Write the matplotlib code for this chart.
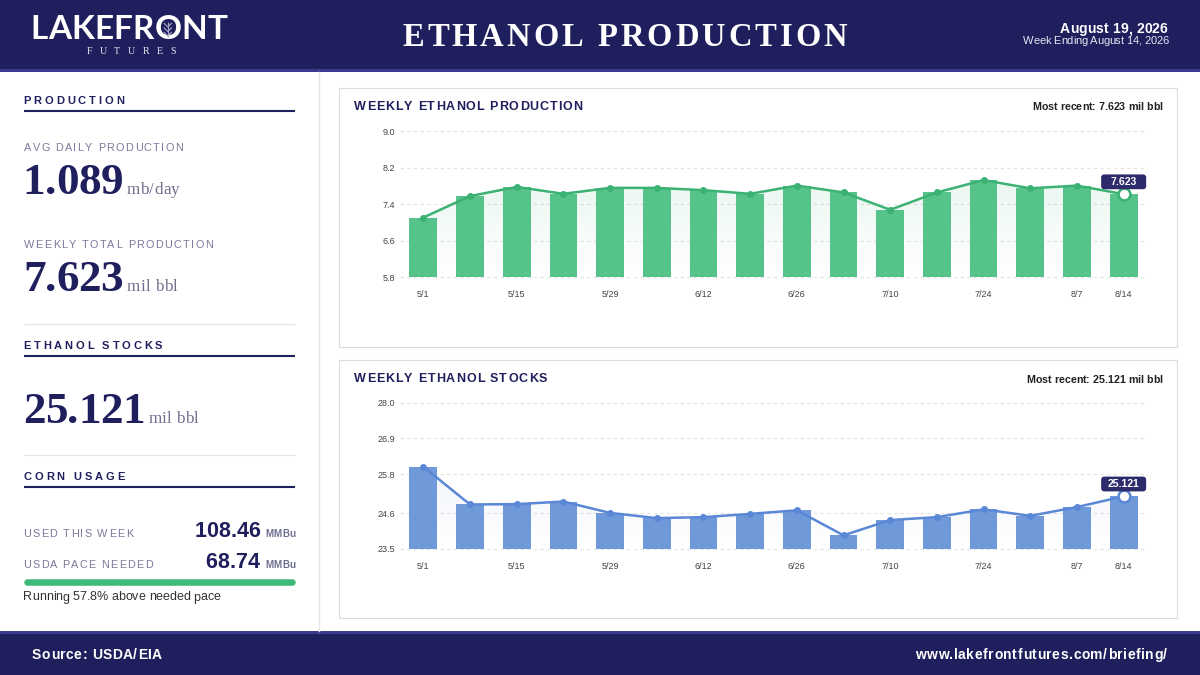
import numpy as np
import matplotlib
matplotlib.use("Agg")
import matplotlib.pyplot as plt
from matplotlib.patches import Rectangle, FancyBboxPatch, Polygon
from matplotlib.lines import Line2D
from matplotlib.font_manager import FontProperties, findfont, get_font

# ---------------- data ----------------
weeks = ["5/1", "5/8", "5/15", "5/22", "5/29", "6/5", "6/12", "6/19",
         "6/26", "7/3", "7/10", "7/17", "7/24", "7/31", "8/7", "8/14"]
shown_weeks = ["5/1", "5/15", "5/29", "6/12", "6/26", "7/10", "7/24", "8/7", "8/14"]
production = [7.11, 7.58, 7.78, 7.63, 7.76, 7.76, 7.71, 7.63,
              7.81, 7.66, 7.28, 7.66, 7.93, 7.75, 7.81, 7.623]
stocks = [26.03, 24.87, 24.88, 24.96, 24.61, 24.45, 24.48, 24.58,
          24.69, 23.92, 24.39, 24.48, 24.72, 24.52, 24.79, 25.121]
prod_ticks = [5.8, 6.6, 7.4, 8.2, 9.0]
stock_ticks = [23.5, 24.6, 25.8, 26.9, 28.0]

avg_daily = 1.089
weekly_total = 7.623
stocks_now = 25.121
corn_used = 108.46
corn_needed = 68.74
report_date = "August 19, 2026"
week_ending = "Week Ending August 14, 2026"
source = "Source: USDA/EIA"
url = "www.lakefrontfutures.com/briefing/"

# ---------------- styling ----------------
NAVY = "#201f5e"
STRIPE = "#3a3a8f"
LABEL = "#7a7a9c"
UNIT = "#6f6f90"
GREEN_BAR = "#56c38b"
GREEN_LINE = "#3bb273"
BLUE_BAR = "#7099d9"
BLUE_LINE = "#5a87d6"
BOX = "#2d2b6c"
SANS = "Liberation Sans"
SERIF = "Liberation Serif"

W, H = 1200, 675
fig = plt.figure(figsize=(12, 6.75), dpi=100)
fig.patch.set_facecolor("white")


def fx(x):
    return x / W


def fy(y):
    return 1 - y / H


def rect(x0, y0, x1, y1, fc="none", ec="none", lw=0, z=0):
    fig.add_artist(Rectangle((fx(x0), fy(y1)), (x1 - x0) / W, (y1 - y0) / H,
                             transform=fig.transFigure, facecolor=fc,
                             edgecolor=ec, linewidth=lw, zorder=z))


def fline(xs, ys, color, lw, z=1, cap="butt"):
    fig.add_artist(Line2D([fx(v) for v in xs], [fy(v) for v in ys],
                          transform=fig.transFigure, color=color, linewidth=lw,
                          solid_capstyle=cap, zorder=z))


def hline(x0, x1, y, color, lw, z=1, cap="butt"):
    fline([x0, x1], [y, y], color, lw, z, cap)


def glyph_metrics(s, family, size, weight):
    fp = FontProperties(family=family, size=size, weight=weight)
    font = get_font(findfont(fp))
    font.set_size(size, 100)
    out = []
    for ch in s:
        g = font.load_char(ord(ch))
        out.append((g.linearHoriAdvance / 65536.0, g.horiBearingX / 64.0, g.width / 64.0))
    return out


def stext(x, y, s, size, family=SANS, weight="normal", color="black",
          width=None, spacing=0.0, ha="left", z=5):
    """Letter-spaced text; x refers to ink edges; width = ink width target."""
    m = glyph_metrics(s, family, size, weight)
    n = len(s)
    base_ink = sum(a for a, _, _ in m[:-1]) + m[-1][1] + m[-1][2] - m[0][1]
    if width is not None and n > 1:
        spacing = (width - base_ink) / (n - 1)
    ink = base_ink + spacing * (n - 1)
    if ha == "left":
        left = x
    elif ha == "center":
        left = x - ink / 2
    else:
        left = x - ink
    cur = left - m[0][1]
    pos = []
    for ch, (adv, bx, gw) in zip(s, m):
        if ch != " ":
            fig.text(fx(cur), fy(y), ch, fontsize=size, family=family,
                     weight=weight, color=color, ha="left", va="baseline", zorder=z)
        pos.append((cur + bx, cur + bx + gw))
        cur += adv + spacing
    return pos


# ---------------- header / footer ----------------
rect(0, 0, W, 69, fc=NAVY)
rect(0, 69, W, 72, fc=STRIPE)
rect(0, 631, W, 634, fc=STRIPE)
rect(0, 634, W, H, fc=NAVY)

lp = stext(33.3, 39, "LAKEFRONT", 24, family="Lato", weight="bold", color="white", width=193.4)
# small leaf mark inside the "O"
o0, o1 = lp[6]
oc = (o0 + o1) / 2
LEAF = "#a9a9c9"
fline([oc, oc], [21.5, 37], LEAF, 0.8, z=6)
for dy in (0, 4.5, 9):
    fline([oc - 4.0, oc, oc + 4.0], [23 + dy, 27 + dy, 23 + dy], LEAF, 0.8, z=6)

stext(87, 54.3, "FUTURES", 7.2, family=SERIF, color="#e8e8f0", width=88)
stext(624.7, 45.7, "ETHANOL PRODUCTION", 23.5, family=SERIF, weight="bold",
      color="white", width=444, ha="center")
stext(1167, 33.3, report_date, 10, weight="bold", color="white", width=107, ha="right")
stext(1168, 44, week_ending, 8, color="#e6e6f2", width=145, ha="right")
stext(32.3, 659.3, source, 10, weight="bold", color="white", width=129.4)
stext(1167, 659.3, url, 10, weight="bold", color="white", width=252, ha="right")

# ---------------- left panel ----------------
fig.add_artist(Line2D([fx(319.3), fx(319.3)], [fy(72), fy(631)], transform=fig.transFigure,
                      color="#e6e6e6", linewidth=1.0))

stext(24, 104, "PRODUCTION", 8, weight="bold", color=NAVY, width=99.3)
hline(24, 295, 110.7, NAVY, 1.5)
stext(24, 151, "AVG DAILY PRODUCTION", 7.8, color=LABEL, width=158.3)
stext(26, 194, f"{avg_daily:.3f}", 32.5, family=SERIF, weight="bold", color=NAVY, width=95.7)
stext(127.3, 194, "mb/day", 12.3, family=SERIF, color=UNIT, width=52)
stext(24, 248, "WEEKLY TOTAL PRODUCTION", 7.8, color=LABEL, width=188)
stext(26, 291.3, f"{weekly_total:.3f}", 32.5, family=SERIF, weight="bold", color=NAVY, width=95.7)
stext(127.3, 291.3, "mil bbl", 12.3, family=SERIF, color=UNIT, width=49.4)
hline(24, 295, 324.3, "#e3e3e3", 0.8)

stext(24, 349, "ETHANOL STOCKS", 8, weight="bold", color=NAVY, width=138)
hline(24, 295, 355.7, NAVY, 1.5)
stext(25, 423, f"{stocks_now:.3f}", 32.5, family=SERIF, weight="bold", color=NAVY, width=117.7)
stext(149, 423, "mil bbl", 12.3, family=SERIF, color=UNIT, width=49.3)
hline(24, 295, 455.3, "#e3e3e3", 0.8)

stext(24, 480, "CORN USAGE", 8, weight="bold", color=NAVY, width=100)
hline(24, 295, 486.7, NAVY, 1.5)
stext(24, 537, "USED THIS WEEK", 7.8, color=LABEL, width=109.3)
stext(259.3, 537.3, f"{corn_used:.2f}", 15.5, weight="bold", color=NAVY, ha="right")
stext(295, 537, "MMBu", 7, weight="bold", color=UNIT, width=29, ha="right")
stext(24, 568, "USDA PACE NEEDED", 7.8, color=LABEL, width=128.3)
stext(259.3, 568.3, f"{corn_needed:.2f}", 15.5, weight="bold", color=NAVY, ha="right")
stext(295, 568, "MMBu", 7, weight="bold", color=UNIT, width=29, ha="right")
hline(27.3, 291.7, 581.7, "#3dba78", 4.7, cap="round")
pct = (corn_used / corn_needed - 1) * 100
stext(24, 600.5, f"Running {pct:.1f}% above needed pace", 9, color="#333333", width=196)

# ---------------- chart cards ----------------
rect(339, 88, 1177, 347, fc="white", ec="#dcdcdc", lw=0.8, z=0)
rect(339, 360, 1177, 618, fc="white", ec="#dcdcdc", lw=0.8, z=0)


def chart(top, bottom, vals, ticks, bar_c, line_c, title, title_w, title_base):
    ax = fig.add_axes([fx(400), fy(bottom), (1147 - 400) / W, (bottom - top) / H])
    ax.set_facecolor("none")
    x = np.arange(len(vals))
    ymin, ymax = ticks[0], ticks[-1]
    ax.set_xlim(-0.5, len(vals) - 0.5)
    ax.set_ylim(ymin, ymax)
    for s in ax.spines.values():
        s.set_visible(False)
    ax.set_yticks(ticks)
    ax.set_yticklabels([f"{t:.1f}" for t in ticks])
    ax.grid(axis="y", color="#e2e2e2", linewidth=0.8, linestyle=(0, (3, 3)))
    for gl in ax.get_ygridlines():
        gl.set_clip_on(False)
    ax.set_axisbelow(True)
    pos = [weeks.index(w) for w in shown_weeks]
    ax.set_xticks(pos)
    ax.set_xticklabels(shown_weeks)
    ax.tick_params(axis="both", length=0, labelsize=6.5, labelcolor="#444444")
    ax.tick_params(axis="x", pad=9.5)
    ax.tick_params(axis="y", pad=3.6)
    for lab in ax.get_xticklabels() + ax.get_yticklabels():
        lab.set_family(SANS)

    # gradient area under line
    verts = list(zip(x, vals)) + [(x[-1], ymin), (x[0], ymin)]
    clip = Polygon(verts, closed=True, facecolor="none", edgecolor="none",
                   transform=ax.transData)
    ax.add_patch(clip)
    grad = np.zeros((100, 2, 4))
    rgb = matplotlib.colors.to_rgb(line_c)
    grad[..., 0], grad[..., 1], grad[..., 2] = rgb
    grad[..., 3] = np.linspace(0.16, 0.0, 100)[:, None]
    im = ax.imshow(grad, extent=(-0.5, len(vals) - 0.5, ymin, ymax), origin="upper",
                   aspect="auto", zorder=1, interpolation="bilinear")
    im.set_clip_path(clip)

    ax.bar(x, np.array(vals) - ymin, bottom=ymin, width=0.595, color=bar_c, zorder=2)
    ax.plot(x, vals, color=line_c, linewidth=1.8, marker="o", markersize=4, zorder=3)
    ax.plot(x[-1:], vals[-1:], linestyle="none", marker="o", markersize=8.5,
            markerfacecolor="white", markeredgecolor=line_c, markeredgewidth=1.8, zorder=4)

    # value tag above the last point
    px, py = ax.transData.transform((x[-1], vals[-1]))
    bw, bh = 45, 14.8
    cx, cy = px, py + 12.3
    fig.add_artist(FancyBboxPatch((fx(cx - bw / 2 + 2), (cy - bh / 2 + 2) / H),
                                  (bw - 4) / W, (bh - 4) / H,
                                  boxstyle=f"round,pad={2 / W},rounding_size={3 / W}",
                                  mutation_aspect=W / H,
                                  transform=fig.transFigure, facecolor=BOX,
                                  edgecolor="none", zorder=6))
    fig.text(cx / W, cy / H - 0.5 / H, f"{vals[-1]:.3f}", fontsize=7.6, weight="bold",
             family=SANS, color="white", ha="center", va="center", zorder=7)

    stext(354, title_base, title, 9, weight="bold", color=NAVY, width=title_w)
    stext(1161.7, title_base + 0.5, f"Most recent: {vals[-1]:.3f} mil bbl", 7.7,
          weight="bold", color="#222222", ha="right")
    return ax


chart(131.3, 277.3, production, prod_ticks, GREEN_BAR, GREEN_LINE,
      "WEEKLY ETHANOL PRODUCTION", 227.7, 110)
chart(402.7, 549, stocks, stock_ticks, BLUE_BAR, BLUE_LINE,
      "WEEKLY ETHANOL STOCKS", 192.7, 382.3)

fig.savefig("out.png", dpi=100, facecolor="white")
